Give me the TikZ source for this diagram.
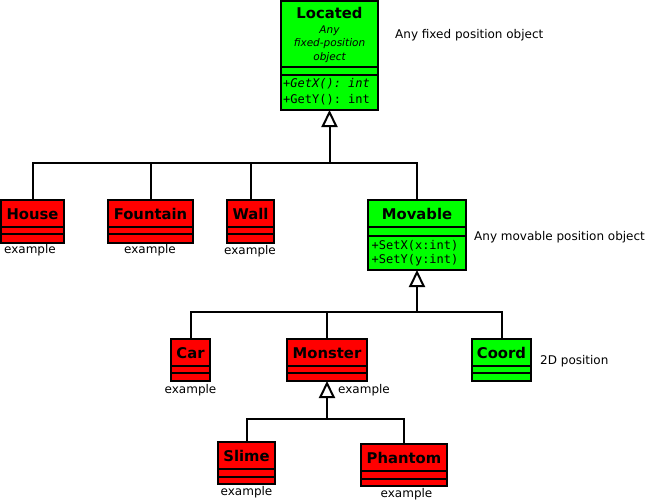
\documentclass[tikz,border=0pt]{standalone}
\usepackage{fontspec}
\setmainfont{DejaVu Sans}
\setmonofont{DejaVu Sans Mono}
\usetikzlibrary{arrows.meta}
\definecolor{clsred}{RGB}{255,0,0}
\definecolor{clsgreen}{RGB}{0,255,0}
\tikzset{
  cls/.style={draw=black, line width=2pt, rectangle, inner sep=0pt, outer sep=0pt},
  clsline/.style={draw=black, line width=2pt},
  title/.style={font=\fontsize{14.8}{17}\selectfont\bfseries, inner sep=0pt, anchor=base},
  note/.style={font=\fontsize{12}{14}\selectfont, inner sep=0pt, anchor=base},
  meth/.style={font=\fontsize{12}{14.5}\selectfont\ttfamily, inner sep=0pt, anchor=base west},
  conn/.style={draw=black, line width=2pt},
  inh/.style={draw=black, line width=2pt, -{Triangle[open, length=17pt, width=16pt, fill=white]}},
}
\newcommand\umlbox[8]{%
  \node[cls, fill=#2, minimum width={(#5-#3)*1pt}, minimum height={(#6-#4)*1pt}] (#1) at ({(#3+#5)/2},{(#4+#6)/2}) {};
  \draw[clsline] (#3,#7) -- (#5,#7);
  \draw[clsline] (#3,#8) -- (#5,#8);
}
\begin{document}
\begin{tikzpicture}[x=1pt,y=-1pt]
\useasboundingbox (0,0) rectangle (647,500);
% boxes
\umlbox{located}{clsgreen}{281}{1}{378}{110}{67}{75}
\umlbox{house}{clsred}{1}{200}{64}{243}{227}{234}
\umlbox{fountain}{clsred}{108}{200}{193}{243}{227}{234}
\umlbox{wall}{clsred}{227}{200}{274}{243}{227}{234}
\umlbox{movable}{clsgreen}{368}{200}{466}{270}{227}{236}
\umlbox{car}{clsred}{171}{339}{210}{381}{366}{373}
\umlbox{monster}{clsred}{287}{339}{367}{381}{366}{373}
\umlbox{coord}{clsgreen}{472}{339}{531}{381}{366}{373}
\umlbox{slime}{clsred}{218}{442}{275}{484}{469}{477}
\umlbox{phantom}{clsred}{361}{444}{447}{486}{471}{479}
% titles
\node[title] (located-t) at (329.5,19) {Located};
\node[font=\fontsize{10.5}{13.5}\selectfont\itshape, align=center, inner sep=0pt, anchor=north] (located-d) at (329.5,25.3) {Any\\fixed-position\\object};
\node[title] (house-t) at (32.5,219) {House};
\node[title] (fountain-t) at (150.5,219) {Fountain};
\node[title] (wall-t) at (250.5,219) {Wall};
\node[title] (movable-t) at (417,219) {Movable};
\node[title] (car-t) at (190.5,358) {Car};
\node[title] (monster-t) at (327,358) {Monster};
\node[title] (coord-t) at (501.5,358) {Coord};
\node[title] (slime-t) at (246.5,461) {Slime};
\node[title] (phantom-t) at (404,463) {Phantom};
% methods
\node[meth] (located-m1) at (283,88) {\itshape +GetX(): int};
\node[meth] (located-m2) at (283,103) {+GetY(): int};
\node[meth] (movable-m1) at (371.5,249) {+SetX(x:int)};
\node[meth] (movable-m2) at (371.5,263) {+SetY(y:int)};
% notes
\node[note, anchor=base west] (n-located) at (395,39) {Any fixed position object};
\node[note, anchor=base west] (n-movable) at (474,240) {Any movable position object};
\node[note, anchor=base west] (n-coord) at (540,364) {2D position};
\node[note] (n-house) at (30,253) {example};
\node[note] (n-fountain) at (150,253) {example};
\node[note] (n-wall) at (250,254) {example};
\node[note] (n-car) at (190.5,393) {example};
\node[note, anchor=base west] (n-monster) at (338,393) {example};
\node[note] (n-slime) at (246.5,495) {example};
\node[note] (n-phantom) at (406.5,497) {example};
% connectors
\coordinate (j1) at (329.5,163);
\coordinate (j2) at (417,312);
\coordinate (j3) at (327,419);
\draw[conn] (house.north) |- (j1) -| (movable.north);
\draw[conn] (fountain.north) |- (j1);
\draw[conn] (wall.north) |- (j1);
\draw[inh] (j1) -- (located.south);
\draw[conn] (car.north) |- (j2) -| (coord.north);
\draw[conn] (monster.north) |- (j2);
\draw[inh] (j2) -- (movable.south);
\draw[conn] (slime.north) |- (j3) -| (phantom.north);
\draw[inh] (j3) -- (monster.south);
\end{tikzpicture}
\end{document}
